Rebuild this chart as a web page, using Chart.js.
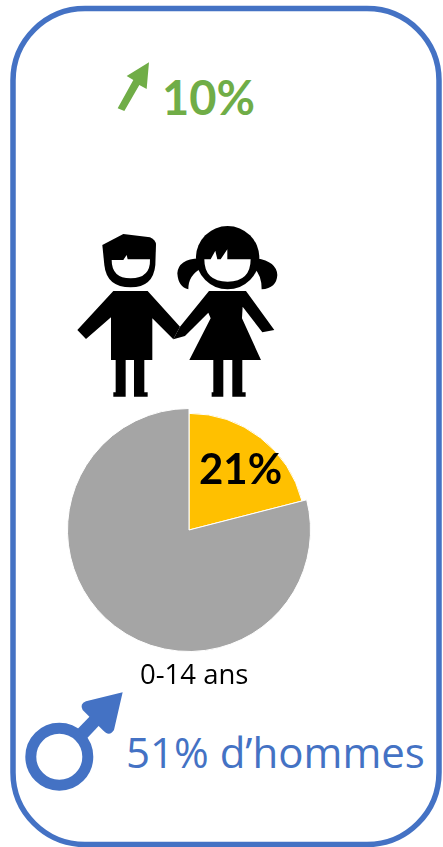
<!DOCTYPE html>
<html lang="fr">
<head>
<meta charset="utf-8">
<title>0-14 ans</title>
<script src="https://cdn.jsdelivr.net/npm/chart.js@4"></script>
<style>
  html, body { margin: 0; padding: 0; background: #fff; overflow: hidden; }
  #page { position: relative; width: 443px; height: 847px; }
  svg { position: absolute; left: 0; top: 0; }
  #chart-box { position: absolute; left: 59px; top: 400px; width: 260px; height: 260px; }
  .txt { position: absolute; white-space: nowrap; line-height: 1; }
  #growth { left: 162px; top: 69px; font: bold 47px Lato, sans-serif; color: #70AD47; }
  #share { left: 199px; top: 443px; font: bold 42px Lato, sans-serif; color: #000; }
  #label { left: 140px; top: 655px; font: 27.5px "Open Sans", sans-serif; color: #000; }
  #men { left: 126px; top: 723px; font: 42px "Open Sans", sans-serif; color: #4472C4; }
</style>
</head>
<body>
<div id="page">
  <svg width="443" height="847" viewBox="0 0 443 847">
    <rect x="13" y="8.5" width="426" height="836" rx="72" ry="72" fill="none" stroke="#4472C4" stroke-width="5.5"/>

    <!-- green arrow -->
    <g transform="translate(90,40) scale(0.3333)" fill="#70AD47">
      <path d="M83 205 L103 213 L148 135 L170 147 L177 67 L110 108 L130 120 Z"/>
    </g>

    <!-- children -->
    <g transform="translate(60,210) scale(0.3333)" fill="#000">
      <path d="M127 105 L190 72 L270 82 Q288 90 288 105 L286 165 Q280 232 212 232 Q140 232 133 165 Z"/>
      <path fill="#fff" d="M155 150 L190 150 L200 135 L203 148 L270 148 Q272 205 212 205 Q155 205 155 150 Z"/>
      <path d="M160 243 L263 243 L360 350 L340 388 L277 325 L277 450 L253 450 L253 547 L263 547 L263 560 L222 560 L222 450 L197 450 L197 560 L160 560 L160 547 L167 547 L167 450 L153 450 L153 322 L78 387 L52 360 Z"/>
      <path d="M447 243 L558 243 L643 360 L607 367 L548 290 L546 325 L603 450 L388 450 L452 325 L445 308 L375 378 L340 388 L360 350 Z"/>
      <path d="M460 450 L490 450 L490 560 L455 560 L455 547 L460 547 Z"/>
      <path d="M517 450 L547 450 L547 547 L557 547 L557 560 L517 560 Z"/>
      <circle cx="503" cy="143" r="95"/>
      <path d="M418 145 Q355 148 352 190 Q355 232 385 238 Q385 195 425 175 Z"/>
      <path d="M590 145 Q650 155 652 195 Q650 235 605 238 Q605 195 582 175 Z"/>
      <path fill="#fff" d="M433 148 L452 148 L466 122 L472 148 L482 148 L502 118 L502 148 L572 148 Q572 215 503 215 Q433 215 433 148 Z"/>
    </g>

    <!-- male symbol -->
    <circle cx="59.3" cy="756.7" r="28.5" fill="none" stroke="#4472C4" stroke-width="11"/>
    <g transform="translate(0,650) scale(0.3333)" fill="#4472C4">
      <path d="M232 238 L296 172 L324 198 L262 264 Z"/>
      <path d="M368 127 L258 154 Q238 162 248 180 L308 240 Q328 262 342 240 Z"/>
    </g>
  </svg>

  <div id="chart-box"><canvas id="chart" width="260" height="260"></canvas></div>

  <div class="txt" id="growth">10%</div>
  <div class="txt" id="share">21%</div>
  <div class="txt" id="label">0-14 ans</div>
  <div class="txt" id="men">51% d’hommes</div>
</div>

<script>
const categories = ['0-14 ans', 'Autres'];
const shares = [21, 79];
const sliceColors = ['#FFC000', '#A5A5A5'];

const canvasCtx = document.querySelector('#chart').getContext('2d');

// the yellow slice sits a bit inside the grey one in the original
const shrinkFirstSlice = {
    id: 'shrinkFirstSlice',
    beforeDatasetsDraw(chart) {
        const arc = chart.getDatasetMeta(0).data[0];
        arc.outerRadius = arc.outerRadius * 0.96;
    }
};

new Chart(canvasCtx, {
    type: 'pie',
    data: {
        labels: categories,
        datasets: [{
            data: shares,
            backgroundColor: sliceColors,
            borderColor: '#fff',
            borderWidth: 1
        }]
    },
    options: {
        responsive: false,
        animation: false,
        layout: { padding: 8 },
        plugins: {
            legend: { display: false },
            tooltip: { enabled: false }
        }
    },
    plugins: [shrinkFirstSlice]
});
</script>
</body>
</html>
